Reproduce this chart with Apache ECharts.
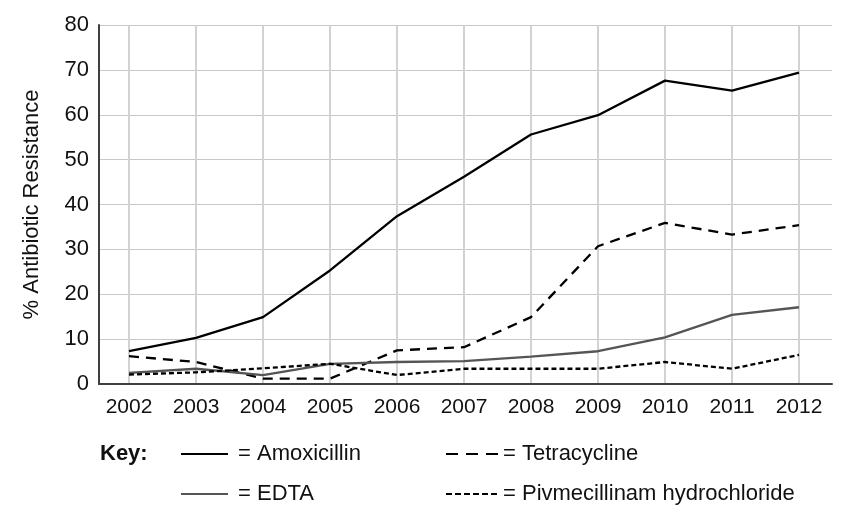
<!doctype html>
<html>
<head>
<meta charset="UTF-8">
<title>Antibiotic Resistance</title>
<script src="https://cdn.jsdelivr.net/npm/echarts@6/dist/echarts.min.js"></script>
<style>
  html, body { margin: 0; padding: 0; background: #fff; }
  #chart { width: 856px; height: 516px; }
</style>
</head>
<body>
<div id="chart"></div>
<script>
// years on the x axis
var years = [2002, 2003, 2004, 2005, 2006, 2007, 2008, 2009, 2010, 2011, 2012];
// % resistance
var amoxicillin = [7.3, 10.3, 14.9, 25.3, 37.4, 46.2, 55.6, 59.9, 67.6, 65.4, 69.4];
var tetracycline = [6.2, 4.9, 1.2, 1.2, 7.5, 8.2, 14.9, 30.7, 35.9, 33.3, 35.4];
var edta = [2.5, 3.4, 2.0, 4.5, 4.9, 5.1, 6.1, 7.3, 10.4, 15.4, 17.1];
var pivmecillinam = [2.1, 2.6, 3.5, 4.5, 2.0, 3.4, 3.4, 3.4, 4.9, 3.4, 6.5];
var yTicks = [0, 10, 20, 30, 40, 50, 60, 70, 80];

var FONT = 'Liberation Sans, Arial, sans-serif';

function pairs(vals) {
  return years.map(function (y, i) { return [y, vals[i]]; });
}

var chart = echarts.init(document.getElementById('chart'));

// legend column settings shared by both columns
function keyColumn(left, width, items, shift) {
  return {
    orient: 'vertical',
    left: left,
    top: 443,
    padding: 0,
    itemWidth: width,
    itemHeight: 14,
    itemGap: 18,
    selectedMode: false,
    data: items,
    formatter: '= {name}',
    itemStyle: { opacity: 0 },   // hide the dot, keep the line
    textStyle: { fontFamily: FONT, fontSize: 22, color: '#111', lineHeight: 22, padding: [0, 0, 0, shift] }
  };
}

var option = {
  animation: false,
  backgroundColor: '#fff',
  textStyle: { fontFamily: FONT },
  title: {
    text: 'Key:',
    left: 100,
    top: 443,
    padding: 0,
    textStyle: { fontFamily: FONT, fontSize: 22, fontWeight: 'bold', color: '#111' }
  },
  legend: [
    keyColumn(180, 47, ['Amoxicillin', 'EDTA'], 5),
    keyColumn(445, 53, [
      { name: 'Tetracycline', lineStyle: { type: [12, 8] } },
      { name: 'Pivmecillinam hydrochloride', lineStyle: { type: [6, 3] } }
    ], -1)
  ],
  grid: [
    // frame + horizontal lines
    { left: 99, right: 24, top: 25, bottom: 132 },
    // data area between first and last year
    { left: 129, right: 57, top: 25, bottom: 132 }
  ],
  xAxis: [{
    gridIndex: 0,
    type: 'value',
    min: 0,
    max: 1,
    axisLine: { show: true, lineStyle: { color: '#404040', width: 2 } },
    axisTick: { show: false },
    axisLabel: { show: false },
    splitLine: { show: false }
  }, {
    gridIndex: 1,
    type: 'value',
    min: years[0],
    max: years[years.length - 1],
    interval: 1,
    axisLine: { show: false },
    axisTick: { show: false },
    axisLabel: {
      margin: 13,
      fontFamily: FONT,
      fontSize: 21,
      color: '#111',
      formatter: function (v) { return String(v); }
    },
    splitLine: { show: true, lineStyle: { color: '#d2d2d2', width: 2 } }
  }],
  yAxis: [{
    gridIndex: 0,
    type: 'value',
    min: yTicks[0],
    max: yTicks[yTicks.length - 1],
    interval: 10,
    name: '% Antibiotic Resistance',
    nameLocation: 'middle',
    nameGap: 56,
    nameTextStyle: { fontFamily: FONT, fontSize: 22, color: '#111' },
    axisLine: { show: true, lineStyle: { color: '#404040', width: 2 } },
    axisTick: { show: false },
    axisLabel: { margin: 10, fontFamily: FONT, fontSize: 22, color: '#111' },
    splitLine: { show: true, lineStyle: { color: '#c8c8c8', width: 1 } }
  }, {
    gridIndex: 1,
    type: 'value',
    min: yTicks[0],
    max: yTicks[yTicks.length - 1],
    show: false
  }],
  series: [{
    name: 'Amoxicillin',
    type: 'line',
    xAxisIndex: 1,
    yAxisIndex: 1,
    symbol: 'none',
    data: pairs(amoxicillin),
    lineStyle: { color: '#000', width: 2.3 },
    itemStyle: { color: '#000' }
  }, {
    name: 'Tetracycline',
    type: 'line',
    xAxisIndex: 1,
    yAxisIndex: 1,
    symbol: 'none',
    data: pairs(tetracycline),
    lineStyle: { color: '#000', width: 2.3, type: [10, 7] },
    itemStyle: { color: '#000' }
  }, {
    name: 'EDTA',
    type: 'line',
    xAxisIndex: 1,
    yAxisIndex: 1,
    symbol: 'none',
    data: pairs(edta),
    lineStyle: { color: '#555', width: 2.3 },
    itemStyle: { color: '#555' }
  }, {
    name: 'Pivmecillinam hydrochloride',
    type: 'line',
    xAxisIndex: 1,
    yAxisIndex: 1,
    symbol: 'none',
    data: pairs(pivmecillinam),
    lineStyle: { color: '#000', width: 2.3, type: [5, 3] },
    itemStyle: { color: '#000' }
  }]
};

chart.setOption(option);
</script>
</body>
</html>
